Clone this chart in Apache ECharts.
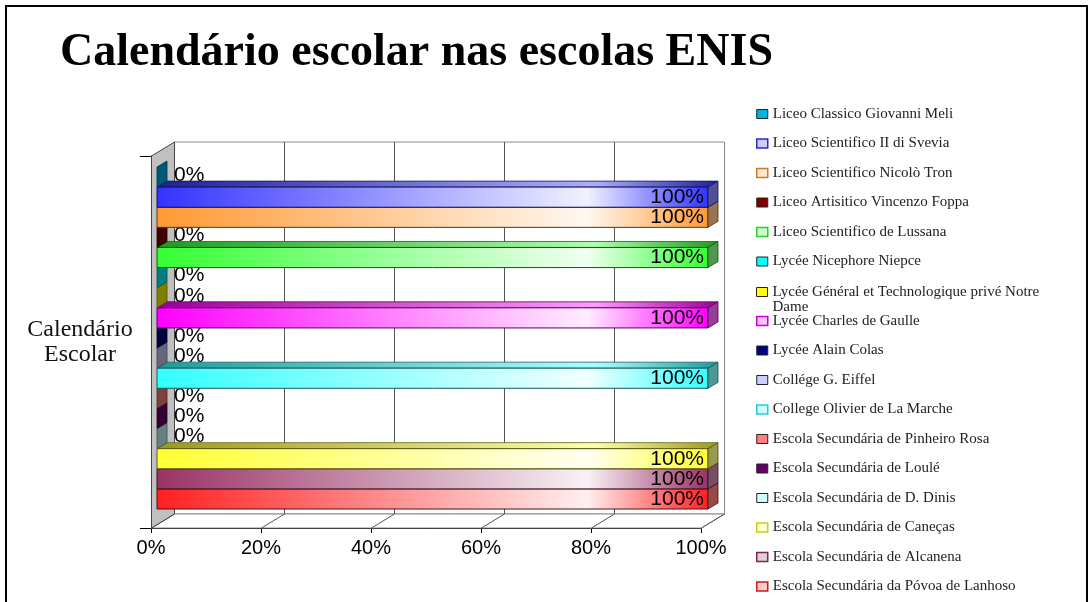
<!DOCTYPE html>
<html>
<head>
<meta charset="utf-8">
<script src="https://cdn.jsdelivr.net/npm/echarts@6.0.0/dist/echarts.min.js"></script>
<style>
  html, body { margin: 0; padding: 0; background: #fff; }
  #chart { width: 1090px; height: 602px; }
</style>
</head>
<body>
<div id="chart"></div>
<script>
// data
const category = 'Calendário Escolar';
const schools = [
  'Liceo Classico Giovanni Meli',
  'Liceo Scientifico II di Svevia',
  'Liceo Scientifico Nicolò Tron',
  'Liceo Artisitico Vincenzo Foppa',
  'Liceo Scientifico de Lussana',
  'Lycée Nicephore Niepce',
  'Lycée Général et Technologique privé Notre Dame',
  'Lycée Charles de Gaulle',
  'Lycée Alain Colas',
  'Collége G. Eiffel',
  'College Olivier de La Marche',
  'Escola Secundária de Pinheiro Rosa',
  'Escola Secundária de Loulé',
  'Escola Secundária de D. Dinis',
  'Escola Secundária de Caneças',
  'Escola Secundária de Alcanena',
  'Escola Secundária da Póvoa de Lanhoso'
];
const values = [0, 100, 100, 0, 100, 0, 0, 100, 0, 0, 100, 0, 0, 0, 100, 100, 100];
const xTicks = [0, 20, 40, 60, 80, 100];

const colors = [
  '#00B4E6', '#3333FF', '#FF9933', '#800000', '#33FF33', '#00FFFF',
  '#FFFF00', '#FF00FF', '#000080', '#CCCCFF', '#33FFFF', '#FF8080',
  '#660066', '#CCFFFF', '#FFFF33', '#993366', '#FF2020'
];

const BAR_DEPTH = [10, -6];
const WALL_DEPTH = [23, -14];

function rgb(hex) {
  const n = parseInt(hex.slice(1), 16);
  return [(n >> 16) & 255, (n >> 8) & 255, n & 255];
}
function mix(a, b, t) {
  const p = rgb(a), q = rgb(b);
  return '#' + p.map((v, k) => Math.round(v + (q[k] - v) * t).toString(16).padStart(2, '0')).join('');
}
const shade = (c, t) => mix(c, '#000000', t);
const tint = (c, t) => mix(c, '#ffffff', t);

function hGrad(a, b, c) {
  return new echarts.graphic.LinearGradient(0, 0, 1, 0, [
    { offset: 0, color: a },
    { offset: 0.78, color: b },
    { offset: 1, color: c }
  ]);
}

// back wall, floor and side wall of the 3D box
function renderWalls(params, api) {
  const c = api.coord([0, 0]);
  const band = api.size([0, 1])[1];
  const top = c[1] - band / 2, bottom = c[1] + band / 2;
  const [dx, dy] = WALL_DEPTH;
  const xs = xTicks.map(t => Math.round(api.coord([t, 0])[0]) + 0.5);
  const x0 = xs[0], x1 = xs[xs.length - 1];
  const ch = [];
  ch.push({ type: 'rect', shape: { x: x0 + dx, y: top + dy, width: x1 - x0, height: band },
    style: { fill: '#fff', stroke: '#8a8a8a', lineWidth: 1 } });
  ch.push({ type: 'polygon', shape: { points: [[x0, bottom], [x0 + dx, bottom + dy], [x1 + dx, bottom + dy], [x1, bottom]] },
    style: { fill: '#fff', stroke: '#8a8a8a', lineWidth: 1 } });
  xs.slice(1, -1).forEach(x => {
    ch.push({ type: 'line', shape: { x1: x + dx, y1: top + dy, x2: x + dx, y2: bottom + dy },
      style: { stroke: '#555', lineWidth: 1 } });
  });
  xs.forEach(x => {
    ch.push({ type: 'line', shape: { x1: x, y1: bottom, x2: x + dx, y2: bottom + dy },
      style: { stroke: '#555', lineWidth: 1 } });
  });
  ch.push({ type: 'polygon', shape: { points: [[x0, top], [x0 + dx, top + dy], [x0 + dx, bottom + dy], [x0, bottom]] },
    style: { fill: '#c0c0c0', stroke: '#444', lineWidth: 1 } });
  return { type: 'group', children: ch };
}

function renderBar(i, params, api) {
  const v = api.value(0);
  const base = api.coord([0, 0]);
  const end = api.coord([v, 0]);
  const band = api.size([0, 1])[1];
  const h = band / schools.length;
  const top = base[1] - band / 2 + i * h;
  const x0 = base[0], x1 = end[0];
  const [dx, dy] = BAR_DEPTH;
  const col = colors[i];
  const ch = [];
  if (x1 > x0) {
    ch.push({ type: 'polygon', shape: { points: [[x0, top], [x0 + dx, top + dy], [x1 + dx, top + dy], [x1, top]] },
      style: { fill: hGrad(shade(col, 0.4), tint(col, 0.6), shade(col, 0.4)), stroke: shade(col, 0.6), lineWidth: 0.8 } });
    ch.push({ type: 'rect', shape: { x: x0, y: top, width: x1 - x0, height: h },
      style: { fill: hGrad(col, tint(col, 0.93), col), stroke: shade(col, 0.65), lineWidth: 1 } });
  }
  ch.push({ type: 'polygon', shape: { points: [[x1, top], [x1 + dx, top + dy], [x1 + dx, top + h + dy], [x1, top + h]] },
    style: { fill: v > 0 ? mix(col, '#606060', 0.65) : shade(col, 0.5), stroke: shade(col, 0.7), lineWidth: 0.8 } });
  ch.push({ type: 'text', style: {
    text: v + '%', x: v > 0 ? x1 - 4 : x0 + 17, y: top + h / 2 - (v > 0 ? 0 : 2),
    align: v > 0 ? 'right' : 'left', verticalAlign: 'middle',
    font: '21px "Liberation Sans", Arial, sans-serif', fill: '#000' } });
  return { type: 'group', children: ch };
}

// legend icons: shaded bars get a light centre, flat ones a solid fill
function legendItem(i) {
  const col = colors[i];
  return {
    name: schools[i],
    itemStyle: values[i] > 0
      ? { color: tint(col, 0.75), borderColor: shade(col, 0.2), borderWidth: 1.5 }
      : { color: col, borderColor: '#222', borderWidth: 1 }
  };
}

const legendBase = {
  orient: 'vertical', left: 756, padding: 0, itemWidth: 11, itemHeight: 9, itemGap: 14.5,
  height: 330, icon: 'rect', selectedMode: false,
  textStyle: { fontFamily: '"Liberation Serif", serif', fontSize: 15, lineHeight: 15, color: '#222' }
};

const chart = echarts.init(document.getElementById('chart'));
chart.setOption({
  backgroundColor: '#fff',
  animation: false,
  title: {
    text: 'Calendário escolar nas escolas ENIS',
    left: 60, top: 30, padding: 0,
    textStyle: { fontFamily: '"Liberation Serif", serif', fontWeight: 'bold', fontSize: 46, color: '#000' }
  },
  graphic: [{
    type: 'rect', silent: true, z: -1,
    shape: { x: 6, y: 6, width: 1081, height: 700 },
    style: { fill: 'none', stroke: '#000', lineWidth: 2 }
  }],
  legend: [
    Object.assign({}, legendBase, { top: 106.5, data: [0, 1, 2, 3, 4, 5].map(legendItem) }),
    Object.assign({}, legendBase, { top: 269.5, data: [legendItem(6)],
      formatter: n => '\n' + n.replace(' Dame', '\nDame') }),
    Object.assign({}, legendBase, { top: 313.5, data: [7, 8, 9, 10, 11, 12, 13, 14, 15, 16].map(legendItem) })
  ],
  grid: [
    { left: 151, right: 389, top: 156, bottom: 74, containLabel: false, outerBoundsMode: 'none' },
    { left: 157, right: 382, top: 167, bottom: 93, containLabel: false, outerBoundsMode: 'none' }
  ],
  xAxis: [
    { type: 'value', gridIndex: 0, min: 0, max: 100, interval: 20,
      axisLine: { show: true, lineStyle: { color: '#000', width: 1 } },
      axisTick: { show: true, length: 5, lineStyle: { color: '#000' } },
      splitLine: { show: false },
      axisLabel: { margin: 10, formatter: '{value}%', color: '#000', fontSize: 20,
        fontFamily: '"Liberation Sans", Arial, sans-serif' } },
    { type: 'value', gridIndex: 1, min: 0, max: 100, show: false }
  ],
  yAxis: [
    { type: 'category', gridIndex: 0, data: [category],
      axisLine: { show: true, lineStyle: { color: '#000' } },
      axisTick: { show: true, length: 11, lineStyle: { color: '#000' } },
      axisLabel: { margin: 71, align: 'center', color: '#111', fontSize: 24, lineHeight: 25,
        padding: [4, 0, 0, 0],
        fontFamily: '"Liberation Serif", serif', formatter: v => v.replace(' ', '\n') } },
    { type: 'category', gridIndex: 1, data: [category], show: false }
  ],
  series: [
    { name: 'walls', type: 'custom', xAxisIndex: 0, yAxisIndex: 0, z: 1, silent: true,
      data: [[0, 0]], encode: { x: 0, y: 1 }, renderItem: renderWalls }
  ].concat(schools.map((name, i) => ({
    name: name, type: 'custom', xAxisIndex: 1, yAxisIndex: 1, z: 40 - i,
    itemStyle: { color: colors[i] },
    data: [[values[i], 0]], encode: { x: 0, y: 1 },
    renderItem: (p, api) => renderBar(i, p, api)
  })))
});
</script>
</body>
</html>
